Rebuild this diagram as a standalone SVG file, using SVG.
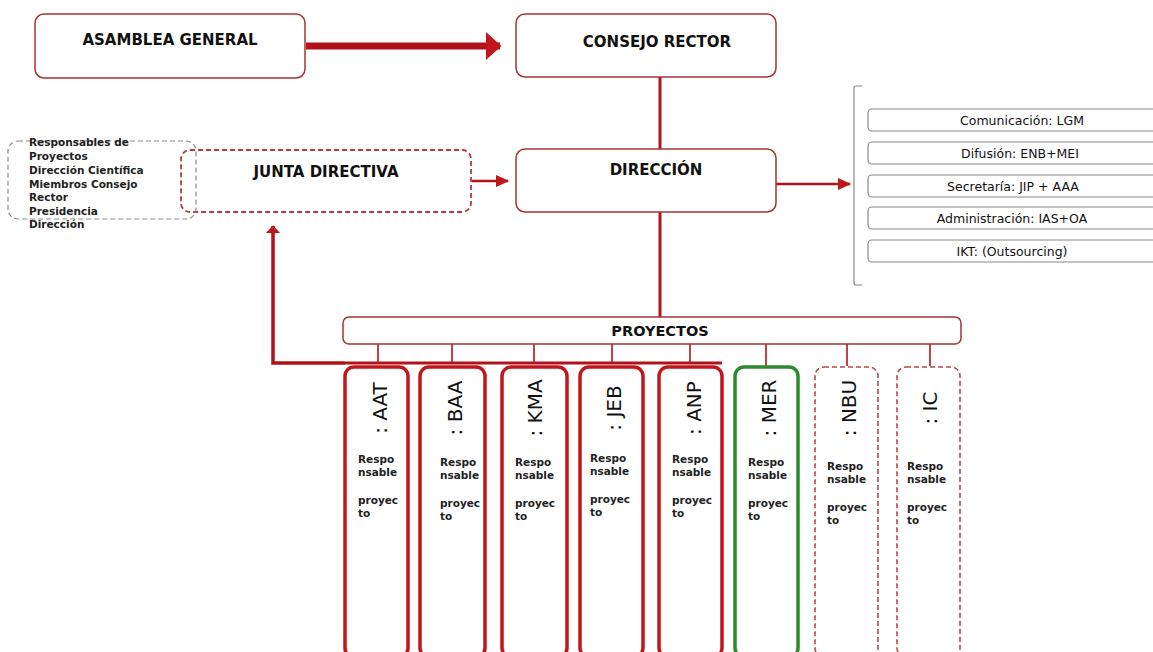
<svg xmlns="http://www.w3.org/2000/svg" width="1153" height="652" viewBox="0 0 1153 652">
<style>
.box{fill:#fff;stroke:#a83236;stroke-width:1.5}
.dash{fill:#fff;stroke:#b83a3e;stroke-width:1.8;stroke-dasharray:5 3}
.gdash{fill:none;stroke:#8a8a8a;stroke-width:1.2;stroke-dasharray:5 3}
.side{fill:#fff;stroke:#888;stroke-width:1.2}
.proj{fill:#fff;stroke:#c0161c;stroke-width:3.5}
.projg{fill:#fff;stroke:#2e8a2e;stroke-width:3.5}
.projd{fill:#fff;stroke:#c0464a;stroke-width:1.6;stroke-dasharray:5 3}
.t{font-family:"DejaVu Sans",Verdana,sans-serif;font-weight:bold;fill:#111;text-anchor:middle}
.big{font-size:15px}
.med{font-size:12.5px;font-weight:normal}
.small{font-family:"DejaVu Sans",Verdana,sans-serif;font-weight:bold;font-size:10.5px;fill:#222}
.rot{font-family:"DejaVu Sans",Verdana,sans-serif;font-size:20px;fill:#111;text-anchor:middle}
.ln{stroke:#b0141a;fill:none}
</style>
<defs>
<marker id="ah" markerWidth="4" markerHeight="4" refX="2" refY="2" orient="auto" markerUnits="strokeWidth"><path d="M0,0 L2.2,2 L0,4 z" fill="#c0161c"/></marker>
<marker id="ah2" markerWidth="6" markerHeight="6" refX="5" refY="3" orient="auto" markerUnits="strokeWidth"><path d="M0,0.5 L5.5,3 L0,5.5 z" fill="#c0161c"/></marker>
</defs>
<rect width="1153" height="652" fill="#fff"/>
<g id="connectors">
<line class="ln" x1="306" y1="46" x2="500" y2="46" stroke-width="7" marker-end="url(#ah)"/>
<line class="ln" x1="660" y1="77" x2="660" y2="149" stroke-width="3"/>
<line class="ln" x1="660" y1="212" x2="660" y2="317" stroke-width="3"/>
<line class="ln" x1="472" y1="181" x2="508" y2="181" stroke-width="2.5" marker-end="url(#ah2)"/>
<line class="ln" x1="776" y1="184" x2="850" y2="184" stroke-width="2.5" marker-end="url(#ah2)"/>
<polyline class="ln" points="345,363 273,363 273,228" stroke-width="3.5"/>
<line class="ln" x1="273" y1="234" x2="273" y2="226" stroke-width="3.5" marker-end="url(#ah)"/>
<line class="ln" x1="345" y1="363" x2="722" y2="363" stroke-width="3"/>
<g stroke="#b0141a" stroke-width="1.6">
<line x1="378" y1="344" x2="378" y2="363"/>
<line x1="452" y1="344" x2="452" y2="363"/>
<line x1="534" y1="344" x2="534" y2="363"/>
<line x1="612" y1="344" x2="612" y2="363"/>
<line x1="690" y1="344" x2="690" y2="363"/>
<line x1="766" y1="344" x2="766" y2="366"/>
<line x1="847" y1="344" x2="847" y2="366"/>
<line x1="930" y1="344" x2="930" y2="366"/>
</g>
<path d="M862,86 L856,86 Q854,86 854,88 L854,283 Q854,285 856,285 L862,285" fill="none" stroke="#888" stroke-width="1.2"/>
</g>
<g id="asamblea"><rect class="box" x="35" y="14" width="270" height="64" rx="9"/><text class="t big" x="170" y="45">ASAMBLEA GENERAL</text></g>
<g id="consejo"><rect class="box" x="516" y="14" width="260" height="63" rx="9"/><text class="t big" x="657" y="47">CONSEJO RECTOR</text></g>
<g id="direccion"><rect class="box" x="516" y="149" width="260" height="63" rx="9"/><text class="t big" x="656" y="175">DIRECCIÓN</text></g>
<g id="junta"><rect class="dash" x="181" y="150" width="290" height="62" rx="9"/><text class="t big" x="326" y="177">JUNTA DIRECTIVA</text></g>
<g id="miembros">
<rect class="gdash" x="8" y="141" width="188" height="78" rx="10"/>
<text class="small" x="29" y="146">Responsables de</text>
<text class="small" x="29" y="160">Proyectos</text>
<text class="small" x="29" y="174">Dirección Científica</text>
<text class="small" x="29" y="188">Miembros Consejo</text>
<text class="small" x="29" y="201">Rector</text>
<text class="small" x="29" y="215">Presidencia</text>
<text class="small" x="29" y="228">Dirección</text>
</g>
<g id="comunicacion"><rect class="side" x="868" y="109" width="290" height="22" rx="4"/><text class="t med" x="1022" y="125">Comunicación: LGM</text></g>
<g id="difusion"><rect class="side" x="868" y="142" width="290" height="22" rx="4"/><text class="t med" x="1020" y="158">Difusión: ENB+MEI</text></g>
<g id="secretaria"><rect class="side" x="868" y="175" width="290" height="22" rx="4"/><text class="t med" x="1013" y="191">Secretaría: JIP + AAA</text></g>
<g id="administracion"><rect class="side" x="868" y="207" width="290" height="22" rx="4"/><text class="t med" x="1012" y="223">Administración: IAS+OA</text></g>
<g id="ikt"><rect class="side" x="868" y="240" width="290" height="22" rx="4"/><text class="t med" x="1012" y="256">IKT: (Outsourcing)</text></g>
<g id="proyectos"><rect class="box" x="343" y="317" width="618" height="27" rx="6"/><text class="t" font-size="14.5" x="660" y="336">PROYECTOS</text></g>
<g id="aat"><rect class="proj" x="345" y="367" width="63" height="290" rx="9"/><text class="rot" transform="translate(387,408) rotate(-90)">: AAT</text><text class="small" x="358" y="463">Respo</text><text class="small" x="358" y="476">nsable</text><text class="small" x="358" y="504">proyec</text><text class="small" x="358" y="517">to</text></g>
<g id="baa"><rect class="proj" x="420" y="367" width="65" height="290" rx="9"/><text class="rot" transform="translate(462,408) rotate(-90)">: BAA</text><text class="small" x="440" y="466">Respo</text><text class="small" x="440" y="479">nsable</text><text class="small" x="440" y="507">proyec</text><text class="small" x="440" y="520">to</text></g>
<g id="kma"><rect class="proj" x="502" y="367" width="65" height="290" rx="9"/><text class="rot" transform="translate(542,408) rotate(-90)">: KMA</text><text class="small" x="515" y="466">Respo</text><text class="small" x="515" y="479">nsable</text><text class="small" x="515" y="507">proyec</text><text class="small" x="515" y="520">to</text></g>
<g id="jeb"><rect class="proj" x="580" y="367" width="63" height="290" rx="9"/><text class="rot" transform="translate(621,408) rotate(-90)">: JEB</text><text class="small" x="590" y="462">Respo</text><text class="small" x="590" y="475">nsable</text><text class="small" x="590" y="503">proyec</text><text class="small" x="590" y="516">to</text></g>
<g id="anp"><rect class="proj" x="659" y="367" width="63" height="290" rx="9"/><text class="rot" transform="translate(701,408) rotate(-90)">: ANP</text><text class="small" x="672" y="463">Respo</text><text class="small" x="672" y="476">nsable</text><text class="small" x="672" y="504">proyec</text><text class="small" x="672" y="517">to</text></g>
<g id="mer"><rect class="projg" x="735" y="367" width="63" height="290" rx="9"/><text class="rot" transform="translate(776,408) rotate(-90)">: MER</text><text class="small" x="748" y="466">Respo</text><text class="small" x="748" y="479">nsable</text><text class="small" x="748" y="507">proyec</text><text class="small" x="748" y="520">to</text></g>
<g id="nbu"><rect class="projd" x="815" y="367" width="63" height="290" rx="9"/><text class="rot" transform="translate(856,408) rotate(-90)">: NBU</text><text class="small" x="827" y="470">Respo</text><text class="small" x="827" y="483">nsable</text><text class="small" x="827" y="511">proyec</text><text class="small" x="827" y="524">to</text></g>
<g id="ic"><rect class="projd" x="897" y="367" width="63" height="290" rx="9"/><text class="rot" transform="translate(937,408) rotate(-90)">: IC</text><text class="small" x="907" y="470">Respo</text><text class="small" x="907" y="483">nsable</text><text class="small" x="907" y="511">proyec</text><text class="small" x="907" y="524">to</text></g>
</svg>
